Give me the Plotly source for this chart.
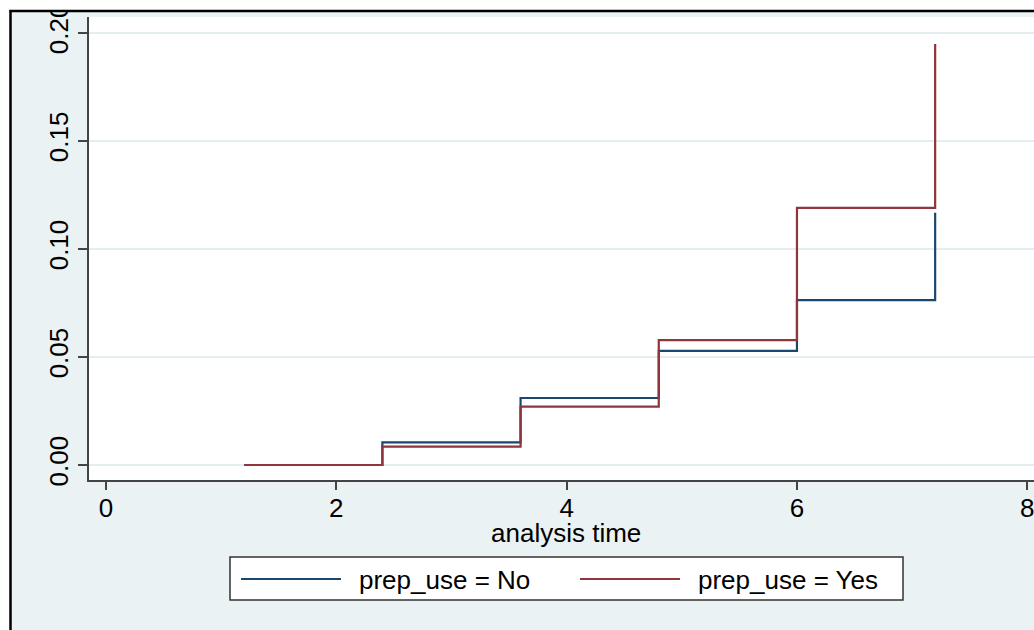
import plotly.graph_objects as go

# ---- data ----
times = [1.2, 2.4, 3.6, 4.8, 6.0, 7.2]
fail_no = [0.0, 0.0105, 0.031, 0.0528, 0.0763, 0.1167]
fail_yes = [0.0, 0.0085, 0.027, 0.0578, 0.119, 0.1948]
series_names = ["prep_use = No", "prep_use = Yes"]
x_ticks = [0, 2, 4, 6, 8]
y_ticks = [0.0, 0.05, 0.10, 0.15, 0.20]
y_tick_labels = ["0.00", "0.05", "0.10", "0.15", "0.20"]
x_title = "analysis time"

NAVY = "#1A476F"
MAROON = "#90353B"
BG = "#EAF2F3"
FONT = "Liberation Sans, Arial, sans-serif"
FS = 26

W, H = 1034, 630
L, R, T, B = 89, 0, 17, 150
PW, PH = W - L - R, H - T - B


def px(x):
    return (x - L) / PW


def py(y):
    return (H - B - y) / PH


fig = go.Figure()
fig.add_trace(go.Scatter(x=times, y=fail_no, mode="lines", line_shape="hv",
                         line=dict(color=NAVY, width=2.2), name=series_names[0],
                         showlegend=False))
fig.add_trace(go.Scatter(x=times, y=fail_yes, mode="lines", line_shape="hv",
                         line=dict(color=MAROON, width=2.2), name=series_names[1],
                         showlegend=False))

shapes = []
# white strips outside outer frame
shapes.append(dict(type="rect", xref="paper", yref="paper", x0=px(-5), x1=px(10), y0=py(H + 5), y1=py(-5),
                   fillcolor="white", line=dict(width=0), layer="above"))
shapes.append(dict(type="rect", xref="paper", yref="paper", x0=px(-5), x1=px(W + 5), y0=py(11), y1=py(-5),
                   fillcolor="white", line=dict(width=0), layer="above"))
# outer frame lines
shapes.append(dict(type="line", xref="paper", yref="paper", x0=px(10.5), x1=px(10.5), y0=py(10), y1=py(H + 5),
                   line=dict(color="black", width=2.5), layer="above"))
shapes.append(dict(type="line", xref="paper", yref="paper", x0=px(9.5), x1=px(W + 5), y0=py(11), y1=py(11),
                   line=dict(color="black", width=2.5), layer="above"))
# legend box
shapes.append(dict(type="rect", xref="paper", yref="paper", x0=px(230), x1=px(903), y0=py(600), y1=py(557),
                   fillcolor="white", line=dict(color="#333333", width=1.5), layer="above"))
shapes.append(dict(type="line", xref="paper", yref="paper", x0=px(241), x1=px(341), y0=py(579), y1=py(579),
                   line=dict(color=NAVY, width=2.2), layer="above"))
shapes.append(dict(type="line", xref="paper", yref="paper", x0=px(580), x1=px(680), y0=py(579), y1=py(579),
                   line=dict(color=MAROON, width=2.2), layer="above"))

annotations = [
    dict(xref="paper", yref="paper", x=px(357), y=py(580), text=series_names[0], showarrow=False,
         xanchor="left", yanchor="middle", font=dict(family=FONT, size=FS, color="black")),
    dict(xref="paper", yref="paper", x=px(696), y=py(580), text=series_names[1], showarrow=False,
         xanchor="left", yanchor="middle", font=dict(family=FONT, size=FS, color="black")),
    dict(xref="paper", yref="paper", x=px(566), y=py(533), text=x_title, showarrow=False,
         xanchor="center", yanchor="middle", font=dict(family=FONT, size=FS, color="black")),
]

fig.update_layout(
    width=W, height=H,
    margin=dict(l=L, r=R, t=T, b=B, pad=0),
    paper_bgcolor=BG, plot_bgcolor="white",
    font=dict(family=FONT, size=FS, color="black"),
    showlegend=False,
    shapes=shapes, annotations=annotations,
    xaxis=dict(range=[(L - 106) / 115.16, (W - 106) / 115.16], tickvals=x_ticks,
               ticks="outside", ticklen=8, tickwidth=1.5, tickcolor="#444444",
               showline=True, linecolor="#444444", linewidth=1.5, showgrid=False, zeroline=False,
               tickfont=dict(size=FS), ticklabeloverflow="allow", ticklabelstandoff=-4),
    yaxis=dict(range=[-0.00694, 0.2073], tickvals=y_ticks, ticktext=y_tick_labels, tickangle=-90,
               ticks="outside", ticklen=9, tickwidth=1.5, tickcolor="#444444",
               showline=True, linecolor="#444444", linewidth=1.5,
               showgrid=True, gridcolor="#E4EDEF", gridwidth=2, zeroline=False,
               tickfont=dict(size=FS)),
)

fig.write_html("out.html", config={"displayModeBar": False},
               post_script="document.body.style.margin='0';document.body.style.overflow='hidden';")
